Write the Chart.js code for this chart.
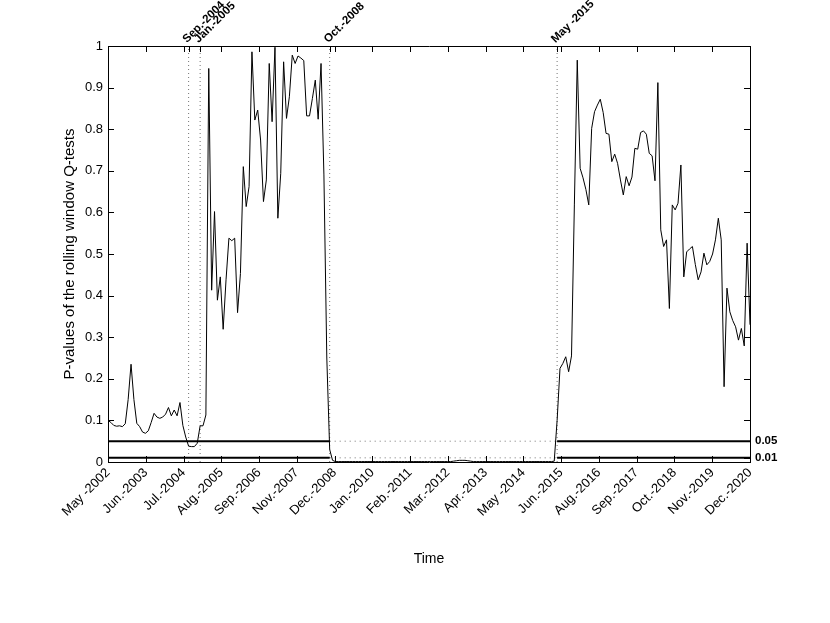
<!DOCTYPE html>
<html>
<head>
<meta charset="utf-8">
<script src="https://cdn.jsdelivr.net/npm/chart.js@4.4.1/dist/chart.umd.min.js"></script>
<style>
  html, body { margin: 0; padding: 0; background: #fff; }
  canvas { display: block; }
</style>
</head>
<body>
<canvas id="c" width="830" height="623"></canvas>
<script>
// ---------------- DATA ----------------
// Monthly p-values, index 0 = May 2002 ... index 223 = Dec 2020
const pValues = [
  0.100,0.095,0.088,0.086,0.087,0.085,0.092,0.150,0.235,0.150,
  0.093,0.085,0.072,0.069,0.075,0.095,0.117,0.108,0.105,0.108,
  0.115,0.131,0.111,0.125,0.111,0.143,0.088,0.060,0.038,0.037,
  0.037,0.045,0.087,0.087,0.113,0.946,0.413,0.602,0.389,0.445,
  0.319,0.438,0.538,0.532,0.538,0.359,0.453,0.710,0.614,0.662,
  0.986,0.822,0.846,0.774,0.626,0.678,0.958,0.818,0.997,0.586,
  0.694,0.962,0.826,0.878,0.978,0.958,0.976,0.971,0.965,0.832,
  0.832,0.874,0.918,0.824,0.958,0.690,0.250,0.030,0.004,0.001,
  0.001,0.001,0.001,0.001,0.001,0.001,0.001,0.001,0.001,0.001,
  0.001,0.001,0.001,0.001,0.001,0.001,0.001,0.001,0.001,0.001,
  0.001,0.001,0.001,0.001,0.001,0.001,0.001,0.001,0.001,0.001,
  0.001,0.001,0.001,0.001,0.001,0.001,0.001,0.001,0.001,0.001,
  0.002,0.003,0.004,0.004,0.004,0.003,0.002,0.001,0.001,0.001,
  0.001,0.001,0.001,0.001,0.001,0.001,0.001,0.001,0.001,0.001,
  0.001,0.001,0.001,0.001,0.001,0.001,0.001,0.001,0.001,0.001,
  0.001,0.001,0.001,0.001,0.001,0.002,0.100,0.225,0.237,0.253,
  0.217,0.255,0.620,0.966,0.706,0.683,0.655,0.618,0.802,0.842,
  0.858,0.872,0.840,0.790,0.788,0.722,0.740,0.718,0.678,0.642,
  0.686,0.664,0.685,0.754,0.752,0.792,0.796,0.788,0.742,0.736,
  0.676,0.912,0.558,0.518,0.534,0.369,0.618,0.606,0.622,0.714,
  0.445,0.505,0.512,0.518,0.475,0.438,0.457,0.502,0.474,0.482,
  0.500,0.534,0.586,0.534,0.181,0.418,0.361,0.340,0.325,0.293,
  0.321,0.279,0.526,0.330
];

const lastIndex = 223;
const xTickLabels = [
  "May -2002","Jun.-2003","Jul.-2004","Aug.-2005","Sep.-2006","Nov.-2007",
  "Dec.-2008","Jan.-2010","Feb.-2011","Mar.-2012","Apr.-2013","May -2014",
  "Jun.-2015","Aug.-2016","Sep.-2017","Oct.-2018","Nov.-2019","Dec.-2020"
];
const eventIndices = [28, 32, 77, 156];
const eventLabels = ["Sep.-2004", "Jan.-2005", "Oct.-2008", "May -2015"];

const yTickValues = [0,0.1,0.2,0.3,0.4,0.5,0.6,0.7,0.8,0.9,1];
const yTickLabels = ["0","0.1","0.2","0.3","0.4","0.5","0.6","0.7","0.8","0.9","1"];

const thresholdValues = [0.01, 0.05];
const thresholdLabels = ["0.01", "0.05"];

const yTitle = "P-values of the rolling window Q-tests";
const xTitle = "Time";

// ---------------- BUILD ----------------
const FONT = "'Liberation Sans', Arial, Helvetica, sans-serif";
const rejStart = eventIndices[2], rejEnd = eventIndices[3];

const datasets = [];
// vertical dotted event lines
eventIndices.forEach(ix => {
  datasets.push({
    data: [{x: ix, y: 0}, {x: ix, y: 1}],
    borderColor: 'rgba(0,0,0,0.55)', borderWidth: 1, borderDash: [1, 3],
    pointRadius: 0, fill: false
  });
});
// threshold lines: solid outside rejection window, dotted inside
thresholdValues.forEach(t => {
  datasets.push({
    data: [{x: 0, y: t}, {x: rejStart, y: t}],
    borderColor: '#000', borderWidth: 2, pointRadius: 0, fill: false
  });
  datasets.push({
    data: [{x: rejStart, y: t}, {x: rejEnd, y: t}],
    borderColor: 'rgba(0,0,0,0.55)', borderWidth: 1, borderDash: [1, 4],
    pointRadius: 0, fill: false
  });
  datasets.push({
    data: [{x: rejEnd, y: t}, {x: lastIndex, y: t}],
    borderColor: '#000', borderWidth: 2, pointRadius: 0, fill: false
  });
});
// main series
datasets.push({
  data: pValues.map((v, i) => ({x: i, y: v})),
  borderColor: '#000', borderWidth: 1, pointRadius: 0, fill: false, tension: 0
});

const regularXTicks = xTickLabels.map((_, k) => k * lastIndex / (xTickLabels.length - 1));

const inwardTicks = {
  id: 'inwardTicks',
  afterDraw(chart) {
    const {ctx, chartArea: {left, right, top, bottom}, scales} = chart;
    const L = 6;
    ctx.save();
    ctx.strokeStyle = '#000';
    ctx.lineWidth = 1;
    ctx.beginPath();
    scales.x.ticks.forEach(t => {
      const px = Math.round(scales.x.getPixelForValue(t.value)) + 0.5;
      ctx.moveTo(px, bottom); ctx.lineTo(px, bottom - L);
      ctx.moveTo(px, top); ctx.lineTo(px, top + L);
    });
    scales.x2.ticks.forEach(t => {
      const px = Math.round(scales.x2.getPixelForValue(t.value)) + 0.5;
      ctx.moveTo(px, top); ctx.lineTo(px, top + L);
    });
    scales.y.ticks.forEach(t => {
      const py = Math.round(scales.y.getPixelForValue(t.value)) + 0.5;
      ctx.moveTo(left, py); ctx.lineTo(left + L, py);
      ctx.moveTo(right, py); ctx.lineTo(right - L, py);
    });
    scales.y2.ticks.forEach(t => {
      const py = Math.round(scales.y2.getPixelForValue(t.value)) + 0.5;
      ctx.moveTo(right, py); ctx.lineTo(right - L, py);
    });
    ctx.stroke();
    ctx.restore();
  }
};

const border = {display: true, color: '#000', width: 1};

new Chart(document.getElementById('c'), {
  type: 'line',
  data: {datasets},
  plugins: [inwardTicks],
  options: {
    responsive: false,
    animation: false,
    devicePixelRatio: 1,
    layout: {padding: 0},
    plugins: {legend: {display: false}, tooltip: {enabled: false}},
    scales: {
      x: {
        type: 'linear', position: 'bottom', min: 0, max: lastIndex,
        afterBuildTicks: s => { s.ticks = regularXTicks.map(v => ({value: v})); },
        afterFit: s => { s.height = 161; },
        grid: {display: false, drawTicks: false},
        border,
        ticks: {
          autoSkip: false, minRotation: 45, maxRotation: 45, padding: 3,
          color: '#000', font: {family: FONT, size: 13},
          callback: (v, i) => xTickLabels[i]
        },
        title: {
          display: true, text: xTitle, color: '#000',
          font: {family: FONT, size: 14}, padding: {top: 0, bottom: 55}
        }
      },
      x2: {
        type: 'linear', position: 'top', min: 0, max: lastIndex,
        afterBuildTicks: s => { s.ticks = eventIndices.map(v => ({value: v})); },
        afterFit: s => { s.height = 46; },
        grid: {display: false, drawTicks: false},
        border,
        ticks: {
          autoSkip: false, minRotation: 45, maxRotation: 45, padding: 0,
          labelOffset: 6,
          color: '#000', font: {family: FONT, size: 11.5, weight: 'bold'},
          callback: (v, i) => eventLabels[i]
        }
      },
      y: {
        type: 'linear', position: 'left', min: 0, max: 1,
        afterBuildTicks: s => { s.ticks = yTickValues.map(v => ({value: v})); },
        afterFit: s => { s.width = 108; },
        grid: {display: false, drawTicks: false},
        border,
        ticks: {
          autoSkip: false, padding: 5, color: '#000',
          font: {family: FONT, size: 13},
          callback: (v, i) => yTickLabels[i]
        },
        title: {
          display: true, text: yTitle, color: '#000',
          font: {family: FONT, size: 15}, padding: {top: 61, bottom: 0}
        }
      },
      y2: {
        type: 'linear', position: 'right', min: 0, max: 1,
        afterBuildTicks: s => { s.ticks = thresholdValues.map(v => ({value: v})); },
        afterFit: s => { s.width = 80; },
        grid: {display: false, drawTicks: false},
        border,
        ticks: {
          autoSkip: false, padding: 5, color: '#000',
          font: {family: FONT, size: 11.5, weight: 'bold'},
          callback: (v, i) => thresholdLabels[i]
        }
      }
    }
  }
});
</script>
</body>
</html>
